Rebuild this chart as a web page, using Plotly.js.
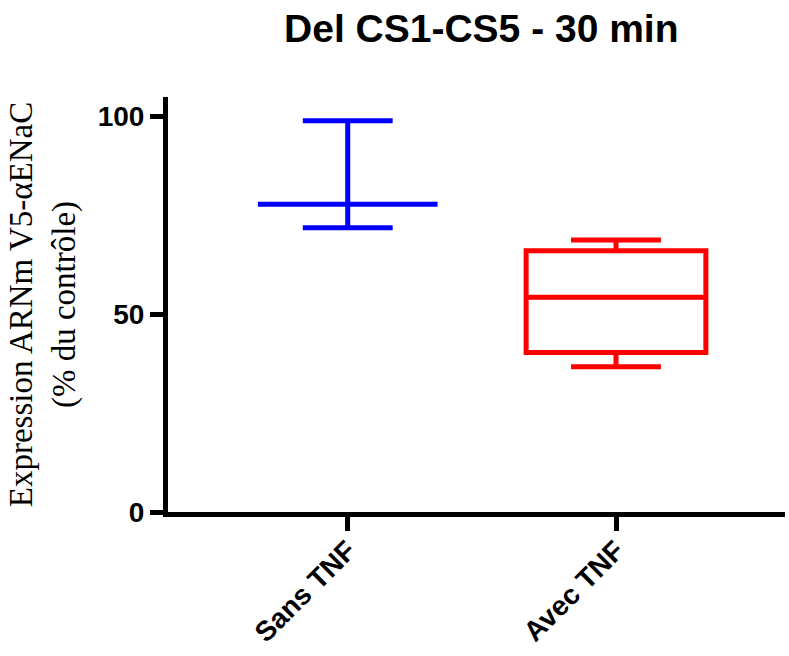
<!DOCTYPE html>
<html>
<head>
<meta charset="utf-8">
<script src="https://cdn.plot.ly/plotly-3.0.1.min.js"></script>
<style>html,body{margin:0;padding:0;background:#fff;}#chart{width:789px;height:656px;}</style>
</head>
<body>
<div id="chart"></div>
<script>
const categories = ["Sans TNF", "Avec TNF"];
const colors = ["#0000FF", "#FF0000"];
const lowerWhisker = [71.8, 36.7];
const q1Values = [77.7, 40.3];
const medianValues = [77.7, 54.2];
const q3Values = [77.7, 66.0];
const upperWhisker = [98.8, 68.7];
const yTicks = [0, 50, 100];

const traces = categories.map((c, i) => ({
  type: "box",
  x: [c],
  q1: [q1Values[i]],
  median: [medianValues[i]],
  q3: [q3Values[i]],
  lowerfence: [lowerWhisker[i]],
  upperfence: [upperWhisker[i]],
  width: 0.67,
  whiskerwidth: 0.5,
  line: {color: colors[i], width: 5},
  fillcolor: "rgba(0,0,0,0)",
  boxpoints: false,
  hoverinfo: "skip",
  showlegend: false
}));

const layout = {
  width: 789, height: 656,
  margin: {l: 168, r: 4, t: 97, b: 144},
  paper_bgcolor: "#fff", plot_bgcolor: "#fff",
  title: {text: "<b>Del CS1-CS5 - 30 min</b>", x: 0.61, xanchor: "center", y: 0.957, yanchor: "middle",
          font: {family: "Liberation Sans, Arial, sans-serif", size: 39, color: "#000"}},
  xaxis: {
    type: "category", categoryorder: "array", categoryarray: categories,
    range: [-0.67, 1.63],
    showline: true, linecolor: "#000", linewidth: 5,
    ticks: "outside", ticklen: 14, tickwidth: 5, tickcolor: "#000",
    tickangle: -45, showgrid: false, zeroline: false, ticklabelstandoff: -8,
    tickfont: {family: "Liberation Sans, Arial, sans-serif", size: 28, color: "#000", weight: "bold"}
  },
  yaxis: {
    range: [0, 104.8], tickvals: yTicks, ticktext: yTicks.map(String),
    showline: true, linecolor: "#000", linewidth: 5,
    ticks: "outside", ticklen: 13, tickwidth: 5, tickcolor: "#000",
    showgrid: false, zeroline: false,
    tickfont: {family: "Liberation Sans, Arial, sans-serif", size: 28, color: "#000", weight: "bold"},
    title: {text: "Expression ARNm V5-αENaC<br>(% du contrôle)", standoff: 14,
            font: {family: "Liberation Serif, Times New Roman, serif", size: 33, color: "#000"}}
  }
};

Plotly.newPlot("chart", traces, layout, {displayModeBar: false, staticPlot: true});
</script>
</body>
</html>
